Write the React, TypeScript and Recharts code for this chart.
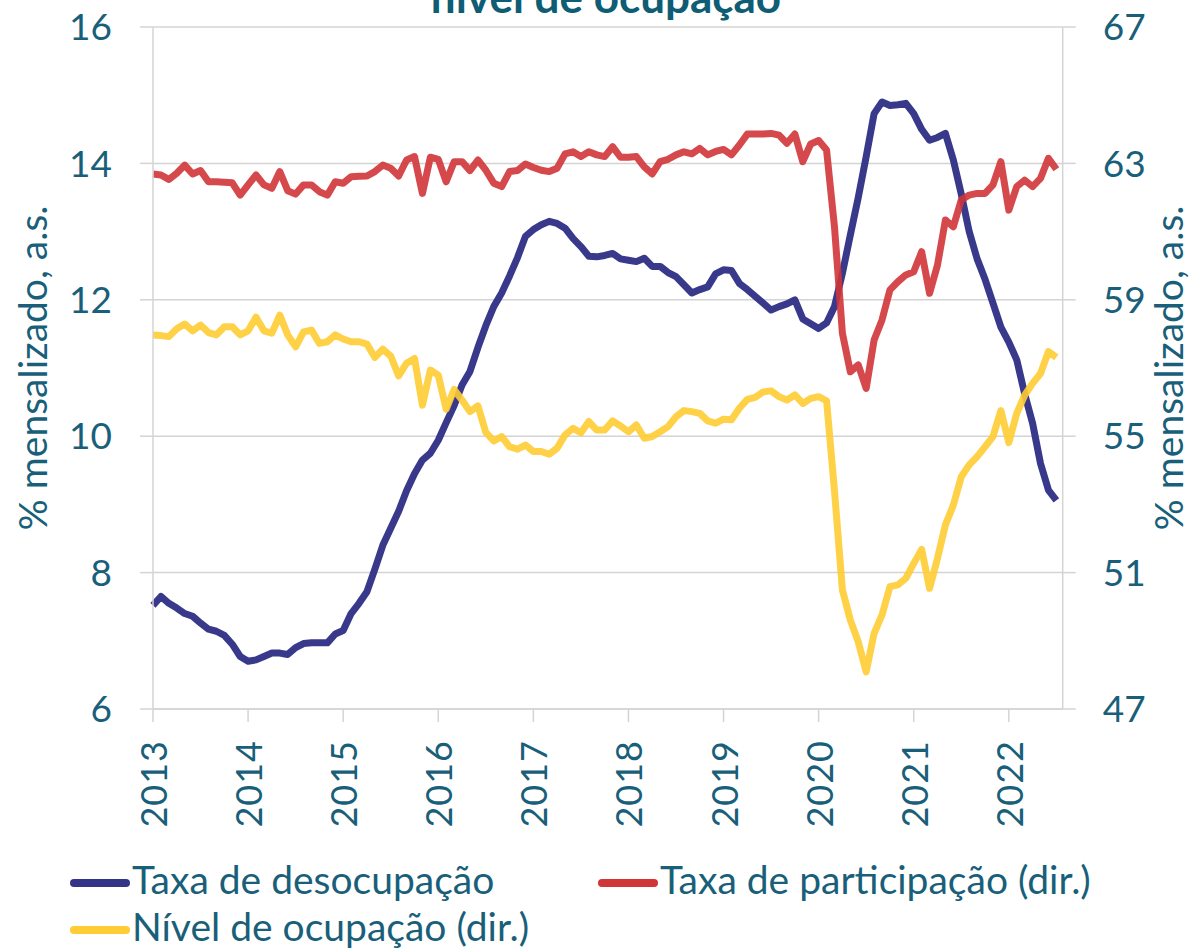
import { LineChart, Line, XAxis, YAxis, CartesianGrid } from 'recharts';

// monthly, Jan 2013 .. Jul 2022
const desocupacao = [
  7.52, 7.65, 7.55, 7.48, 7.40, 7.36, 7.26, 7.17, 7.14, 7.08, 6.95, 6.77,
  6.70, 6.72, 6.77, 6.82, 6.82, 6.80, 6.90, 6.96, 6.97, 6.97, 6.97, 7.10,
  7.15, 7.40, 7.55, 7.72, 8.05, 8.40, 8.65, 8.90, 9.20, 9.45, 9.65, 9.75,
  9.94, 10.20, 10.45, 10.75, 10.95, 11.30, 11.62, 11.90, 12.10, 12.35, 12.62, 12.93,
  13.03, 13.10, 13.15, 13.12, 13.05, 12.90, 12.78, 12.64, 12.63, 12.65, 12.68, 12.60,
  12.58, 12.56, 12.61, 12.49, 12.49, 12.40, 12.34, 12.22, 12.10, 12.15, 12.19, 12.38,
  12.44, 12.43, 12.24, 12.15, 12.05, 11.95, 11.85, 11.90, 11.94, 12.00, 11.72, 11.65,
  11.58, 11.66, 11.90, 12.39, 12.95, 13.50, 14.10, 14.73, 14.90, 14.85, 14.86, 14.88,
  14.73, 14.50, 14.34, 14.38, 14.44, 14.05, 13.55, 13.00, 12.60, 12.30, 11.95, 11.60,
  11.38, 11.12, 10.62, 10.19, 9.60, 9.21, 9.06,
];

const participacao = [
  62.69, 62.66, 62.53, 62.71, 62.95, 62.69, 62.79, 62.46, 62.46, 62.45, 62.43, 62.07,
  62.37, 62.66, 62.37, 62.27, 62.76, 62.20, 62.10, 62.37, 62.37, 62.17, 62.07, 62.46,
  62.42, 62.61, 62.62, 62.63, 62.76, 62.95, 62.86, 62.63, 63.10, 63.20, 62.12, 63.18,
  63.12, 62.46, 63.05, 63.05, 62.79, 63.10, 62.80, 62.42, 62.32, 62.76, 62.79, 62.98,
  62.88, 62.80, 62.76, 62.86, 63.28, 63.34, 63.20, 63.34, 63.25, 63.20, 63.49, 63.18,
  63.18, 63.20, 62.90, 62.69, 63.05, 63.12, 63.25, 63.34, 63.28, 63.44, 63.25, 63.35,
  63.41, 63.25, 63.54, 63.86, 63.86, 63.86, 63.88, 63.83, 63.59, 63.86, 63.05, 63.57,
  63.67, 63.39, 61.14, 58.02, 56.89, 57.09, 56.40, 57.82, 58.41, 59.29, 59.53, 59.73,
  59.82, 60.41, 59.19, 60.02, 61.34, 61.14, 61.93, 62.07, 62.12, 62.12, 62.37, 63.05,
  61.63, 62.32, 62.51, 62.32, 62.56, 63.15, 62.83,
];

const nivelOcupacao = [
  57.97, 57.95, 57.92, 58.15, 58.29, 58.09, 58.26, 58.04, 57.97, 58.21, 58.21, 57.97,
  58.09, 58.49, 58.09, 58.02, 58.55, 57.97, 57.62, 58.06, 58.11, 57.72, 57.77, 57.97,
  57.85, 57.77, 57.77, 57.70, 57.31, 57.55, 57.35, 56.77, 57.14, 57.28, 55.91, 56.94,
  56.79, 55.79, 56.37, 56.06, 55.72, 55.89, 55.11, 54.86, 54.99, 54.69, 54.62, 54.74,
  54.55, 54.55, 54.47, 54.65, 55.04, 55.23, 55.10, 55.43, 55.18, 55.18, 55.45, 55.30,
  55.13, 55.33, 54.94, 54.99, 55.13, 55.28, 55.57, 55.75, 55.72, 55.67, 55.45, 55.38,
  55.50, 55.48, 55.82, 56.08, 56.14, 56.30, 56.33, 56.16, 56.06, 56.21, 55.96, 56.11,
  56.16, 56.04, 53.40, 50.49, 49.61, 48.97, 48.09, 49.22, 49.76, 50.59, 50.64, 50.83,
  51.27, 51.68, 50.54, 51.42, 52.40, 52.98, 53.81, 54.16, 54.40, 54.69, 54.99, 55.75,
  54.81, 55.67, 56.20, 56.55, 56.84, 57.48, 57.31,
];

const years = ['2013', '2014', '2015', '2016', '2017', '2018', '2019', '2020', '2021', '2022'];
const leftTicks = [6, 8, 10, 12, 14, 16];
const rightTicks = [47, 51, 55, 59, 63, 67];

const seriesNames = ['Taxa de desocupação', 'Taxa de participação (dir.)', 'Nível de ocupação (dir.)'];
const seriesColors = ['#333388', '#d03538', '#ffcc33'];

const data = desocupacao.map((v, i) => ({
  i,
  desocupacao: v,
  participacao: participacao[i],
  nivel: nivelOcupacao[i],
}));

const FONT = 'Lato, sans-serif';
const TXT = '#1a5f7a';
const GRID = '#d4d4d4';

const YearTick = (props: any) => {
  const { x, y, payload } = props;
  return (
    <text
      x={x}
      y={y + 16}
      transform={`rotate(-90, ${x}, ${y + 16})`}
      textAnchor="end"
      dominantBaseline="central"
      fill={TXT}
      fontFamily={FONT}
      fontSize={36}
      letterSpacing={1}
    >
      {years[Math.round(payload.value / 12)]}
    </text>
  );
};

export default function App() {
  return (
    <div style={{ position: 'absolute', left: 0, top: 0, width: 1191, height: 950, background: '#fff' }}>
      <LineChart width={1191} height={950} data={data} margin={{ top: 27, right: 0, bottom: 0, left: 0 }}>
        <CartesianGrid vertical={false} stroke={GRID} strokeWidth={1.5} yAxisId="left" />
        <XAxis
          dataKey="i"
          type="number"
          domain={[0, 114.8]}
          ticks={years.map((_, k) => k * 12)}
          height={241}
          tick={<YearTick />}
          tickSize={13}
          tickLine={{ stroke: GRID, strokeWidth: 1.5 }}
          axisLine={{ stroke: GRID, strokeWidth: 1.5 }}
          interval={0}
        />
        <YAxis
          yAxisId="left"
          domain={[6, 16]}
          ticks={leftTicks}
          width={153}
          tickSize={13}
          tickMargin={28}
          tickLine={{ stroke: GRID, strokeWidth: 1.5 }}
          axisLine={{ stroke: GRID, strokeWidth: 1.5 }}
          tick={{ fill: TXT, fontFamily: FONT, fontSize: 37 }}
          interval={0}
        />
        <YAxis
          yAxisId="right"
          orientation="right"
          domain={[47, 67]}
          ticks={rightTicks}
          width={128.3}
          tickSize={13}
          tickMargin={27}
          tickLine={{ stroke: GRID, strokeWidth: 1.5 }}
          axisLine={{ stroke: GRID, strokeWidth: 1.5 }}
          tick={{ fill: TXT, fontFamily: FONT, fontSize: 37 }}
          interval={0}
        />
        <Line yAxisId="left" dataKey="desocupacao" stroke={seriesColors[0]} strokeWidth={7} strokeOpacity={0.97} dot={false} strokeLinejoin="round" isAnimationActive={false} />
        <Line yAxisId="right" dataKey="participacao" stroke={seriesColors[1]} strokeWidth={7} strokeOpacity={0.9} dot={false} strokeLinejoin="round" isAnimationActive={false} />
        <Line yAxisId="right" dataKey="nivel" stroke={seriesColors[2]} strokeWidth={7} strokeOpacity={0.9} dot={false} strokeLinejoin="round" isAnimationActive={false} />
      </LineChart>

      <svg width={1191} height={950} style={{ position: 'absolute', left: 0, top: 0, pointerEvents: 'none' }}>
        <text x={606} y={13} textAnchor="middle" fill="#0e5d74" fontFamily={FONT} fontWeight={700} fontSize={44}>
          nível de ocupação
        </text>
        <text x={47} y={368} transform="rotate(-90, 47, 368)" textAnchor="middle" fill={TXT} fontFamily={FONT} fontSize={39}>
          %  mensalizado, a.s.
        </text>
        <text x={1183} y={368} transform="rotate(-90, 1183, 368)" textAnchor="middle" fill={TXT} fontFamily={FONT} fontSize={39}>
          %  mensalizado, a.s.
        </text>
        {[
          { x: 70, y: 883 },
          { x: 598, y: 883 },
          { x: 70, y: 930 },
        ].map((p, k) => (
          <g key={k}>
            <line x1={p.x + 4} x2={p.x + 56} y1={p.y} y2={p.y} stroke={seriesColors[k]} strokeWidth={8} strokeLinecap="round" />
            <text x={p.x + 62} y={p.y + 11} fill={TXT} fontFamily={FONT} fontSize={39}>
              {seriesNames[k]}
            </text>
          </g>
        ))}
      </svg>
    </div>
  );
}
